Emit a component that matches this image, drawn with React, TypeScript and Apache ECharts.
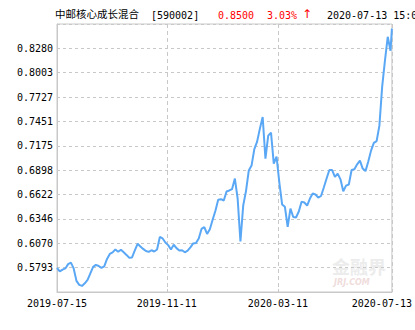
import React, { useEffect, useRef } from "react";
import * as echarts from "echarts";

// ---- data ----
const FUND_NAME = "中邮核心成长混合";
const FUND_CODE = "[590002]";
const LATEST_NAV = "0.8500";
const LATEST_CHANGE = "3.03%";
const LATEST_ARROW = "↑";
const LATEST_TIME = "2020-07-13 15:00";

const START_DATE = "2019-07-15";
const END_DATE = "2020-07-13";
const HOLIDAYS = [
  "2019-09-13", "2019-10-01", "2019-10-02", "2019-10-03", "2019-10-04", "2019-10-07",
  "2020-01-01", "2020-01-24", "2020-01-27", "2020-01-28", "2020-01-29", "2020-01-30",
  "2020-01-31", "2020-04-06", "2020-05-01", "2020-05-04", "2020-05-05", "2020-06-25",
  "2020-06-26",
];

// unit NAV read every other trading day, the last value is the final day
const NAV_VALUES = [
  0.5791, 0.5751, 0.5772, 0.5785, 0.5834, 0.5850, 0.5785, 0.5644, 0.5599, 0.5587,
  0.5616, 0.5655, 0.5729, 0.5802, 0.5825, 0.5813, 0.5791, 0.5808, 0.5893, 0.5949,
  0.5966, 0.6000, 0.5974, 0.5997, 0.5968, 0.5938, 0.5906, 0.5909, 0.5989, 0.6064,
  0.6034, 0.6006, 0.5983, 0.5972, 0.5991, 0.5977, 0.6000, 0.6141, 0.6124, 0.6079,
  0.6049, 0.6000, 0.6053, 0.6015, 0.5989, 0.5991, 0.5968, 0.5986, 0.6023, 0.6068,
  0.6073, 0.6124, 0.6232, 0.6253, 0.6175, 0.6228, 0.6336, 0.6439, 0.6563, 0.6569,
  0.6554, 0.6656, 0.6668, 0.6684, 0.6803, 0.6576, 0.6090, 0.6497, 0.6661, 0.6893,
  0.6950, 0.7136, 0.7221, 0.7368, 0.7500, 0.7029, 0.7289, 0.7323, 0.6972, 0.7051,
  0.6757, 0.6509, 0.6483, 0.6257, 0.6463, 0.6368, 0.6362, 0.6430, 0.6539, 0.6531,
  0.6497, 0.6576, 0.6633, 0.6622, 0.6586, 0.6605, 0.6701, 0.6803, 0.6899, 0.6899,
  0.6822, 0.6859, 0.6794, 0.6659, 0.6723, 0.6735, 0.6900, 0.6908, 0.6964, 0.7006,
  0.6916, 0.6887, 0.6995, 0.7119, 0.7206, 0.7227, 0.7402, 0.7843, 0.8137, 0.8408,
  0.8250, 0.8500,
];

const X_LABELS = ["2019-07-15", "2019-11-11", "2020-03-11", "2020-07-13"];
const Y_LABELS = ["0.5793", "0.6070", "0.6346", "0.6622", "0.6898", "0.7175", "0.7451", "0.7727", "0.8003", "0.8280"];
const Y_INTERVAL = 0.02759;
const Y_MIN = 0.5518; // = 20 * Y_INTERVAL
const Y_MAX = 0.85529; // = 31 * Y_INTERVAL

function pad(n: number) {
  return n < 10 ? "0" + n : "" + n;
}

function buildTradingDays(start: string, end: string, holidays: string[]) {
  const out: string[] = [];
  const d = new Date(start + "T00:00:00Z");
  const e = new Date(end + "T00:00:00Z");
  while (d.getTime() <= e.getTime()) {
    const wd = d.getUTCDay();
    const s = d.getUTCFullYear() + "-" + pad(d.getUTCMonth() + 1) + "-" + pad(d.getUTCDate());
    if (wd !== 0 && wd !== 6 && holidays.indexOf(s) < 0) out.push(s);
    d.setUTCDate(d.getUTCDate() + 1);
  }
  return out;
}

const MONO = "'DejaVu Sans Mono', 'Liberation Mono', monospace";

export default function App() {
  const ref = useRef<HTMLDivElement>(null);

  useEffect(() => {
    if (!ref.current) return;
    const chart = echarts.init(ref.current, undefined, { renderer: "svg" });

    const days = buildTradingDays(START_DATE, END_DATE, HOLIDAYS);
    const N = days.length;
    const seriesData: (number | null)[] = days.map(() => null);
    NAV_VALUES.forEach((v, k) => {
      const idx = k === NAV_VALUES.length - 1 ? N - 1 : Math.min(2 * k, N - 1);
      seriesData[idx] = v;
    });
    const labelIdx = X_LABELS.map((l) => {
      const i = days.indexOf(l);
      return i >= 0 ? i : days.findIndex((d) => d >= l);
    });
    const showIdx = (i: number) => labelIdx.indexOf(i) >= 0;

    const gridColor = "#c8c8c8";

    chart.setOption({
      animation: false,
      grid: {
        left: 57,
        top: 24,
        width: 335,
        height: 268,
        show: true,
        borderColor: gridColor,
        borderWidth: 1,
        backgroundColor: "transparent",
      },
      graphic: [
        {
          type: "text",
          left: 55,
          top: 8,
          style: { text: FUND_NAME, font: "10.5px 'Noto Sans CJK SC'", fill: "#000" },
        },
        {
          type: "text",
          left: 151,
          top: 10,
          style: { text: FUND_CODE, font: "10px " + MONO, fill: "#000" },
        },
        {
          type: "text",
          left: 218,
          top: 10,
          style: { text: LATEST_NAV, font: "10px " + MONO, fill: "#ff0000" },
        },
        {
          type: "text",
          left: 267,
          top: 10,
          style: { text: LATEST_CHANGE, font: "10px " + MONO, fill: "#ff0000" },
        },
        {
          type: "text",
          left: 302,
          top: 8,
          style: { text: LATEST_ARROW, font: "12px 'DejaVu Sans'", fill: "#ff0000" },
        },
        {
          type: "text",
          left: 327,
          top: 10,
          style: { text: LATEST_TIME, font: "10px " + MONO, fill: "#000" },
        },
        {
          type: "text",
          left: 332,
          top: 257,
          z: -1,
          style: { text: "金融界", font: "bold 18px 'Noto Sans CJK SC'", fill: "#ececec" },
        },
        {
          type: "text",
          left: 334,
          top: 278,
          z: -1,
          style: { text: "JRJ.COM", font: "italic bold 8px 'DejaVu Sans'", fill: "#efdcdc" },
        },
      ],
      xAxis: {
        type: "category",
        data: days,
        boundaryGap: false,
        axisLine: { show: true, lineStyle: { color: gridColor } },
        axisTick: {
          show: true,
          inside: true,
          length: 3,
          interval: (i: number) => showIdx(i),
          lineStyle: { color: gridColor },
        },
        axisLabel: {
          interval: (i: number) => showIdx(i),
          fontFamily: MONO,
          fontSize: 10,
          color: "#000",
          margin: 6,
          formatter: (v: string, i: number) => {
            const k = labelIdx.indexOf(i);
            const txt = k >= 0 ? X_LABELS[k] : v;
            return i === N - 1 ? "{r|" + txt + "}" : txt;
          },
          rich: {
            r: { fontFamily: MONO, fontSize: 10, color: "#000", padding: [0, 20, 0, 0] },
          },
        },
        splitLine: {
          show: true,
          interval: (i: number) => showIdx(i),
          lineStyle: { color: gridColor, type: [4, 3], width: 1 },
        },
      },
      yAxis: {
        type: "value",
        min: Y_MIN,
        max: Y_MAX,
        interval: Y_INTERVAL,
        axisLine: { show: true, lineStyle: { color: gridColor } },
        axisTick: { show: true, inside: true, length: 3, lineStyle: { color: gridColor } },
        axisLabel: {
          showMinLabel: false,
          showMaxLabel: false,
          fontFamily: MONO,
          fontSize: 10,
          color: "#000",
          margin: 4,
          formatter: (v: number) => {
            const k = Math.round((v - Y_MIN) / Y_INTERVAL) - 1;
            return k >= 0 && k < Y_LABELS.length ? Y_LABELS[k] : "";
          },
        },
        splitLine: { show: true, lineStyle: { color: gridColor, type: [3, 3], width: 1 } },
      },
      series: [
        {
          type: "line",
          data: seriesData,
          connectNulls: true,
          showSymbol: false,
          symbol: "none",
          lineStyle: { color: "#5aa8f5", width: 2 },
          z: 3,
        },
      ],
    });

    return () => chart.dispose();
  }, []);

  return (
    <div
      ref={ref}
      style={{ position: "fixed", left: 0, top: 0, width: 415, height: 330, background: "#fff" }}
    />
  );
}
